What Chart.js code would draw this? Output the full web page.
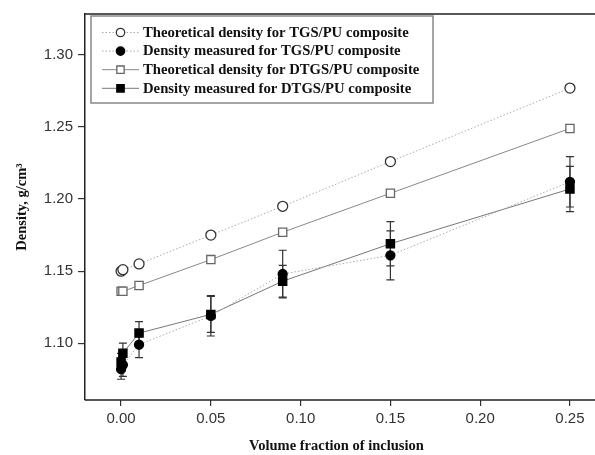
<!DOCTYPE html>
<html>
<head>
<meta charset="utf-8">
<script src="https://cdn.jsdelivr.net/npm/chart.js@4/dist/chart.umd.min.js"></script>
<style>
  html, body { margin: 0; padding: 0; background: #fff; }
  #wrap { width: 595px; height: 455px; }
</style>
</head>
<body>
<div id="wrap"><canvas id="densityChart" width="595" height="455"></canvas></div>
<script>
// volume fraction of inclusion
const fractions = [0, 0.001, 0.01, 0.05, 0.09, 0.15, 0.25];

const theoTGS = [1.150, 1.151, 1.155, 1.175, 1.195, 1.226, 1.277];
const measTGS = [1.082, 1.085, 1.099, 1.119, 1.148, 1.161, 1.212];
const measTGSErr = [0.007, 0.008, 0.009, 0.014, 0.0165, 0.017, 0.0175];

const theoDTGS = [1.136, 1.136, 1.140, 1.158, 1.177, 1.204, 1.249];
const measDTGS = [1.087, 1.093, 1.107, 1.120, 1.143, 1.169, 1.207];
const measDTGSErr = [0.006, 0.007, 0.008, 0.0125, 0.011, 0.0153, 0.0157];

const xTicks = [0, 0.05, 0.10, 0.15, 0.20, 0.25];
const yTicks = [1.10, 1.15, 1.20, 1.25, 1.30];

const labels = [
    'Theoretical density for TGS/PU composite',
    'Density measured for TGS/PU composite',
    'Theoretical density for DTGS/PU composite',
    'Density measured for DTGS/PU composite'
];

const toPoints = (ys) => ys.map((y, i) => ({ x: fractions[i], y }));

function series(label, values, opts) {
    return Object.assign({
        label,
        data: toPoints(values),
        showLine: true,
        borderWidth: 1,
        pointBorderWidth: 1.3,
        pointBorderColor: '#222',
        tension: 0
    }, opts);
}

// error bars, drawn through the scales
const errorBars = {
    id: 'errorBars',
    beforeDatasetsDraw(chart) {
        const { ctx, scales: { x, y } } = chart;
        const sets = [[measTGS, measTGSErr], [measDTGS, measDTGSErr]];
        ctx.save();
        ctx.strokeStyle = '#333';
        ctx.lineWidth = 1.2;
        sets.forEach(([vals, errs]) => {
            vals.forEach((v, i) => {
                const px = x.getPixelForValue(fractions[i]);
                const top = y.getPixelForValue(v + errs[i]);
                const bot = y.getPixelForValue(v - errs[i]);
                ctx.beginPath();
                ctx.moveTo(px, top); ctx.lineTo(px, bot);
                ctx.moveTo(px - 4, top); ctx.lineTo(px + 4, top);
                ctx.moveTo(px - 4, bot); ctx.lineTo(px + 4, bot);
                ctx.stroke();
            });
        });
        ctx.restore();
    }
};

// frame lines run off the right edge (the plot is cropped there) + boxed legend
const frameAndLegend = {
    id: 'frameAndLegend',
    afterDraw(chart) {
        const { ctx, chartArea } = chart;
        ctx.save();
        ctx.strokeStyle = '#222';
        ctx.lineWidth = 1.5;
        ctx.beginPath();
        ctx.moveTo(chartArea.left, chartArea.top);
        ctx.lineTo(chart.width, chartArea.top);
        ctx.moveTo(chartArea.left, chartArea.bottom);
        ctx.lineTo(chart.width, chartArea.bottom);
        ctx.stroke();

        const bx = 91, by = 16, bw = 342, bh = 87;
        ctx.fillStyle = '#fff';
        ctx.fillRect(bx, by, bw, bh);
        ctx.strokeStyle = '#888';
        ctx.lineWidth = 1.5;
        ctx.strokeRect(bx, by, bw, bh);

        ctx.font = 'bold 14.7px "Liberation Serif", "Times New Roman", serif';
        ctx.textBaseline = 'middle';
        chart.data.datasets.forEach((ds, i) => {
            const ry = 32.5 + i * 18.6;
            ctx.strokeStyle = ds.borderColor;
            ctx.lineWidth = 1;
            ctx.setLineDash(ds.borderDash || []);
            ctx.beginPath();
            ctx.moveTo(102, ry); ctx.lineTo(139, ry);
            ctx.stroke();
            ctx.setLineDash([]);
            ctx.fillStyle = ds.pointBackgroundColor;
            ctx.strokeStyle = ds.pointBorderColor;
            ctx.lineWidth = ds.pointBorderWidth;
            Chart.helpers.drawPoint(ctx, {
                pointStyle: ds.pointStyle,
                radius: ds.pointStyle === 'rect' ? 5.2 : 4.2,
                rotation: 0,
                borderWidth: ds.pointBorderWidth
            }, 120.5, ry);
            ctx.fillStyle = '#111';
            ctx.fillText(ds.label, 143, ry + 0.5);
        });
        ctx.restore();
    }
};

const ctx = document.getElementById('densityChart').getContext('2d');

new Chart(ctx, {
    type: 'scatter',
    data: {
        datasets: [
            series(labels[0], theoTGS, {
                borderColor: '#aaa', borderDash: [1.5, 2],
                pointStyle: 'circle', pointRadius: 5,
                pointBackgroundColor: '#fff', pointBorderColor: '#333'
            }),
            series(labels[1], measTGS, {
                borderColor: '#aaa', borderDash: [1.5, 2],
                pointStyle: 'circle', pointRadius: 4.5,
                pointBackgroundColor: '#000', pointBorderColor: '#000'
            }),
            series(labels[2], theoDTGS, {
                borderColor: '#888',
                pointStyle: 'rect', pointRadius: 5.8,
                pointBackgroundColor: '#fff', pointBorderColor: '#666'
            }),
            series(labels[3], measDTGS, {
                borderColor: '#777',
                pointStyle: 'rect', pointRadius: 5.8,
                pointBackgroundColor: '#000', pointBorderColor: '#000'
            })
        ]
    },
    options: {
        responsive: false,
        animation: false,
        layout: { padding: { top: 13, right: 0, left: 0, bottom: 0 } },
        plugins: { legend: { display: false }, tooltip: { enabled: false } },
        scales: {
            x: {
                type: 'linear',
                min: -0.0201,
                max: 0.2600,
                afterBuildTicks: (s) => { s.ticks = xTicks.map(v => ({ value: v })); },
                afterFit: (s) => { s.height = 55; },
                ticks: {
                    callback: (v) => v.toFixed(2),
                    font: { family: '"Liberation Sans", Arial, sans-serif', size: 15 },
                    color: '#333',
                    padding: 4,
                    maxRotation: 0
                },
                grid: { drawOnChartArea: false, drawTicks: true, tickLength: 6, color: '#333', lineWidth: 1.2 },
                border: { display: false },
                title: {
                    display: true,
                    text: 'Volume fraction of inclusion',
                    font: { family: '"Liberation Serif", "Times New Roman", serif', size: 14.5, weight: 'bold' },
                    color: '#111',
                    padding: { top: 11, bottom: 0 }
                }
            },
            y: {
                min: 1.0606,
                max: 1.3284,
                afterBuildTicks: (s) => { s.ticks = yTicks.map(v => ({ value: v })); },
                afterFit: (s) => { s.width = 85; },
                ticks: {
                    callback: (v) => v.toFixed(2),
                    font: { family: '"Liberation Sans", Arial, sans-serif', size: 15 },
                    color: '#333',
                    padding: 5
                },
                grid: { drawOnChartArea: false, drawTicks: true, tickLength: 7, color: '#333', lineWidth: 1.2 },
                border: { display: true, color: '#222', width: 1.5 },
                title: {
                    display: true,
                    text: 'Density, g/cm³',
                    font: { family: '"Liberation Serif", "Times New Roman", serif', size: 14.5, weight: 'bold' },
                    color: '#111',
                    padding: { top: 14, bottom: 0 }
                }
            }
        }
    },
    plugins: [errorBars, frameAndLegend]
});
</script>
</body>
</html>
